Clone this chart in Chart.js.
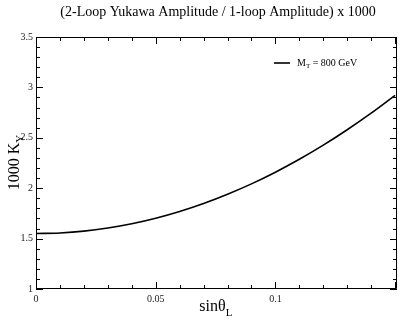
<!DOCTYPE html>
<html>
<head>
<meta charset="utf-8">
<script src="https://cdn.jsdelivr.net/npm/chart.js@4/dist/chart.umd.min.js"></script>
<style>
  html, body { margin: 0; padding: 0; background: #fff; }
  #wrap { width: 399px; height: 321px; }
</style>
</head>
<body>
<div id="wrap"><canvas id="kyChart" width="399" height="321"></canvas></div>
<script>
// data
var sinTheta = [0, 0.01, 0.02, 0.03, 0.04, 0.05, 0.06, 0.07, 0.08, 0.09, 0.10, 0.11, 0.12, 0.13, 0.14, 0.15];
var kY1000 = [1.55, 1.556, 1.574, 1.605, 1.647, 1.702, 1.769, 1.848, 1.94, 2.043, 2.159, 2.287, 2.427, 2.58, 2.744, 2.921];
var xTicks = [0, 0.05, 0.1];
var yTicks = [1, 1.5, 2, 2.5, 3, 3.5];
var seriesLabel = 'M_T = 800 GeV';

var serif = '"Liberation Serif", "DejaVu Serif", serif';

// draws inward ticks on all four sides, titles with subscripts and the legend
var framePlugin = {
    id: 'frame',
    afterDraw: function (chart) {
        var ctx = chart.ctx;
        var a = chart.chartArea;
        var xs = chart.scales.x, ys = chart.scales.y;
        ctx.save();
        ctx.strokeStyle = '#000';
        ctx.lineWidth = 1;
        ctx.beginPath();
        ctx.rect(a.left + 0.5, a.top + 0.5, a.right - a.left - 1, a.bottom - a.top - 1);
        ctx.stroke();

        ctx.beginPath();
        for (var i = 0; i <= 15; i++) {
            var v = i * 0.01;
            var px = Math.round(xs.getPixelForValue(v)) + 0.5;
            var len = (i % 5 === 0) ? 7 : 4;
            ctx.moveTo(px, a.bottom); ctx.lineTo(px, a.bottom - len);
            ctx.moveTo(px, a.top); ctx.lineTo(px, a.top + len);
        }
        for (var j = 0; j <= 25; j++) {
            var w = 1 + j * 0.1;
            var py = Math.round(ys.getPixelForValue(w)) + 0.5;
            var ln = (j % 5 === 0) ? 7 : 4;
            ctx.moveTo(a.left, py); ctx.lineTo(a.left + ln, py);
            ctx.moveTo(a.right, py); ctx.lineTo(a.right - ln, py);
        }
        ctx.stroke();

        ctx.fillStyle = '#000';
        // title
        ctx.font = '14px ' + serif;
        ctx.textAlign = 'center';
        ctx.textBaseline = 'middle';
        ctx.fillText('(2-Loop Yukawa Amplitude / 1-loop Amplitude) x 1000', 218, 12);

        // x title: sinθ_L
        ctx.font = '16px ' + serif;
        ctx.textAlign = 'left';
        ctx.textBaseline = 'alphabetic';
        var xt = 'sinθ';
        var xw = ctx.measureText(xt).width;
        var x0 = 216 - (xw + 7) / 2;
        ctx.fillText(xt, x0, 311);
        ctx.font = '11px ' + serif;
        ctx.fillText('L', x0 + xw, 316);

        // y title: 1000 K_Y
        ctx.save();
        ctx.translate(15, 163);
        ctx.rotate(-Math.PI / 2);
        ctx.font = '16px ' + serif;
        var yt = '1000 K';
        var yw = ctx.measureText(yt).width;
        var y0 = -(yw + 7) / 2;
        ctx.textBaseline = 'middle';
        ctx.fillText(yt, y0, 0);
        ctx.font = '11px ' + serif;
        ctx.fillText('Y', y0 + yw, 5);
        ctx.restore();

        // legend
        ctx.beginPath();
        ctx.lineWidth = 1.6;
        ctx.moveTo(274, 63); ctx.lineTo(290, 63);
        ctx.stroke();
        ctx.font = '10px ' + serif;
        ctx.textBaseline = 'middle';
        var parts = seriesLabel.split('_T');
        ctx.fillText(parts[0], 297, 63);
        var mw = ctx.measureText(parts[0]).width;
        ctx.font = '7px ' + serif;
        ctx.fillText('T', 297 + mw, 66);
        var tw = ctx.measureText('T').width;
        ctx.font = '10px ' + serif;
        ctx.fillText(parts[1], 297 + mw + tw, 63);
        ctx.restore();
    }
};

var ctx = document.getElementById('kyChart').getContext('2d');
var kyChart = new Chart(ctx, {
    type: 'line',
    data: {
        datasets: [{
            label: seriesLabel,
            data: sinTheta.map(function (x, i) { return { x: x, y: kY1000[i] }; }),
            borderColor: '#000',
            borderWidth: 1.6,
            pointRadius: 0,
            cubicInterpolationMode: 'monotone',
            fill: false
        }]
    },
    options: {
        responsive: false,
        animation: false,
        layout: { padding: { top: 37, right: 2, left: 0, bottom: 0 } },
        plugins: {
            legend: { display: false },
            title: { display: false },
            tooltip: { enabled: false }
        },
        scales: {
            x: {
                type: 'linear',
                min: 0,
                max: 0.1508,
                afterBuildTicks: function (axis) {
                    axis.ticks = xTicks.map(function (v) { return { value: v }; });
                },
                afterFit: function (axis) { axis.height = 32; },
                grid: { display: false, drawTicks: false },
                border: { display: false },
                ticks: {
                    padding: 4,
                    maxRotation: 0,
                    color: '#222',
                    font: { family: serif, size: 10 },
                    callback: function (v) { return String(Math.round(v * 100) / 100); }
                }
            },
            y: {
                type: 'linear',
                min: 1,
                max: 3.5,
                afterBuildTicks: function (axis) {
                    axis.ticks = yTicks.map(function (v) { return { value: v }; });
                },
                afterFit: function (axis) { axis.width = 36; },
                grid: { display: false, drawTicks: false },
                border: { display: false },
                ticks: {
                    padding: 3,
                    color: '#222',
                    font: { family: serif, size: 10 },
                    callback: function (v) { return String(v); }
                }
            }
        }
    },
    plugins: [framePlugin]
});
</script>
</body>
</html>
